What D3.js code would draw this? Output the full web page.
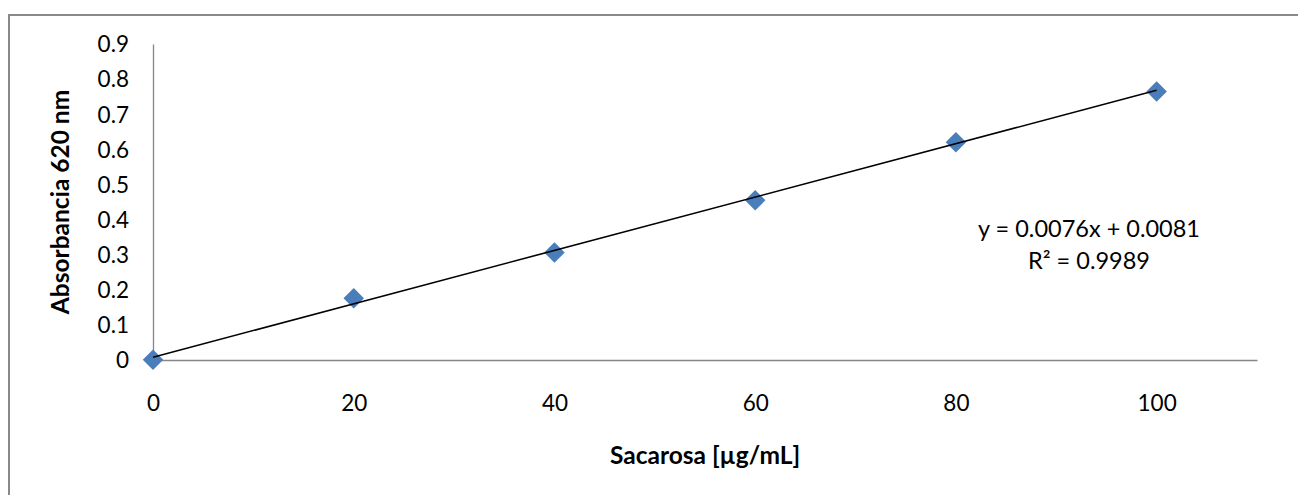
<!DOCTYPE html>
<html>
<head>
<meta charset="utf-8">
<script src="https://cdn.jsdelivr.net/npm/d3@7"></script>
<style>
  body { margin: 0; background: #fff; }
  svg { display: block; font-family: Lato, "Open Sans", sans-serif; }
</style>
</head>
<body>
<svg id="chart"></svg>
<script>
const concentrations = [0, 20, 40, 60, 80, 100];
const absorbances = [0.001, 0.176, 0.306, 0.455, 0.62, 0.765];
const xTicks = [0, 20, 40, 60, 80, 100];
const yTicks = [0, 0.1, 0.2, 0.3, 0.4, 0.5, 0.6, 0.7, 0.8, 0.9];
const slope = 0.0076;
const intercept = 0.0081;
const eqLines = ["y = 0.0076x + 0.0081", "R² = 0.9989"];

const w = 1298;
const h = 495;

const svg = d3.select("#chart").attr("width", w).attr("height", h);

// chart outline
svg.append("rect")
  .attr("x", 9).attr("y", 15)
  .attr("width", w).attr("height", h)
  .attr("fill", "none")
  .attr("stroke", "#898989")
  .attr("stroke-width", 2);

const xScale = d3.scaleLinear().domain([0, 110]).range([153, 1257]);
const yScale = d3.scaleLinear().domain([0, 0.9]).range([360, 44]);

const xAxis = d3.axisBottom(xScale).tickValues(xTicks).tickSize(0).tickPadding(35)
  .tickFormat(d3.format("d"));
const yAxis = d3.axisLeft(yScale).tickValues(yTicks).tickSize(0).tickPadding(24)
  .tickFormat((d) => (d === 0 ? "0" : d3.format(".1f")(d)));

const gx = svg.append("g").attr("transform", `translate(0, ${yScale(0)})`).call(xAxis);
const gy = svg.append("g").attr("transform", `translate(${xScale(0)}, 0)`).call(yAxis);

[gx, gy].forEach((g) => {
  g.select(".domain").attr("stroke", "#868686").attr("stroke-width", 1.3);
  g.selectAll("text").attr("font-size", 22.5).attr("fill", "#000").attr("font-family", "Lato, sans-serif");
});
gy.selectAll("text").attr("dy", "0.35em");

// markers
svg.append("g")
  .selectAll("path")
  .data(concentrations)
  .enter()
  .append("path")
  .attr("d", d3.symbol().type(d3.symbolSquare).size(210))
  .attr("transform", (d, i) => `translate(${xScale(d)}, ${yScale(absorbances[i])}) rotate(45)`)
  .attr("fill", "#4a7ebb");

// linear trendline
svg.append("line")
  .attr("x1", xScale(0)).attr("y1", yScale(intercept))
  .attr("x2", xScale(100)).attr("y2", yScale(slope * 100 + intercept))
  .attr("stroke", "#000")
  .attr("stroke-width", 1.6);

// equation label
svg.append("g")
  .selectAll("text")
  .data(eqLines)
  .enter()
  .append("text")
  .attr("x", 1089)
  .attr("y", (d, i) => 237 + i * 32)
  .attr("text-anchor", "middle")
  .attr("font-size", 23.5)
  .text((d) => d);

// axis titles
svg.append("text")
  .attr("x", 705).attr("y", 464)
  .attr("text-anchor", "middle")
  .attr("font-size", 24.5).attr("font-weight", "bold")
  .text("Sacarosa [µg/mL]");

svg.append("text")
  .attr("transform", "translate(69, 202) rotate(-90)")
  .attr("text-anchor", "middle")
  .attr("font-size", 24.5).attr("font-weight", "bold")
  .text("Absorbancia 620 nm");
</script>
</body>
</html>
